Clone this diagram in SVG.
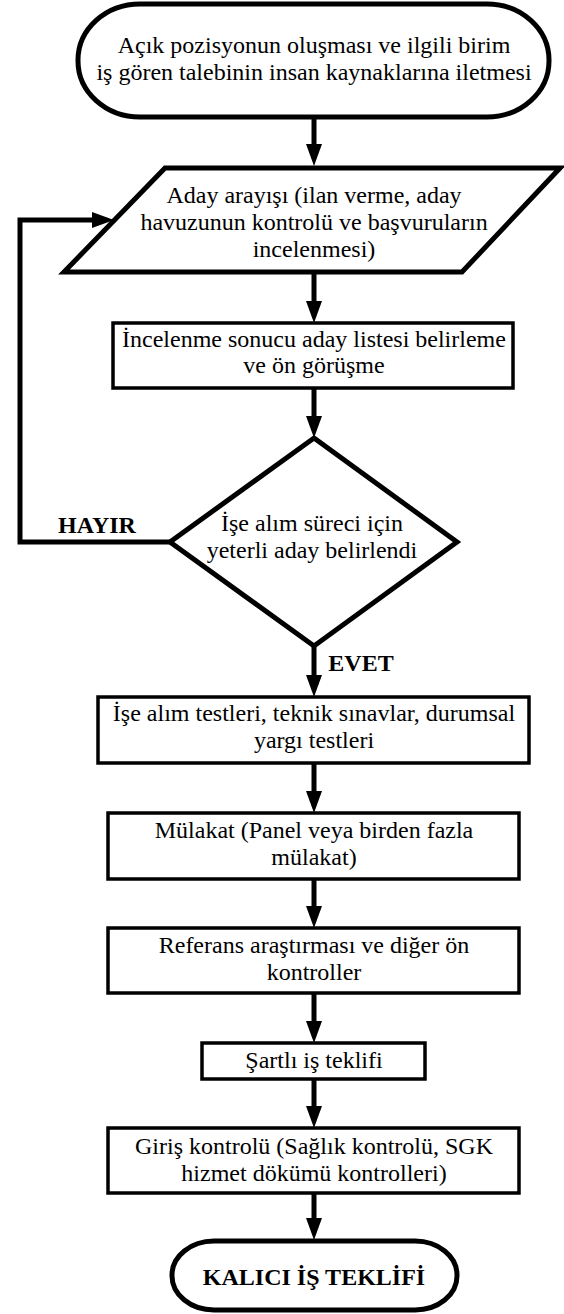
<svg xmlns="http://www.w3.org/2000/svg" width="564" height="1314" viewBox="0 0 564 1314">
<style>
.t{font-family:"Liberation Serif","Times New Roman",serif;font-size:24px;fill:#000;text-anchor:middle}
.b{font-weight:bold}
.thick{fill:#fff;stroke:#000;stroke-width:5;stroke-linejoin:miter}
.box{fill:#fff;stroke:#000;stroke-width:3.5}
.c{fill:none;stroke:#000;stroke-width:5;stroke-linejoin:miter}
</style>
<defs>
<marker id="ah" viewBox="0 0 22 16" refX="0" refY="8" markerWidth="22" markerHeight="16" markerUnits="userSpaceOnUse" orient="auto">
<path d="M0,0 L22,8 L0,16 Z" fill="#000"/>
</marker>
</defs>
<g id="connectors">
<path class="c" d="M314,117 V144" marker-end="url(#ah)"/>
<path class="c" d="M314,272 V301" marker-end="url(#ah)"/>
<path class="c" d="M314,388 V416" marker-end="url(#ah)"/>
<path class="c" d="M170,542 H20 V220 H92" marker-end="url(#ah)"/>
<path class="c" d="M314,646 V675" marker-end="url(#ah)"/>
<path class="c" d="M314,763 V791" marker-end="url(#ah)"/>
<path class="c" d="M314,879 V906" marker-end="url(#ah)"/>
<path class="c" d="M314,993 V1021" marker-end="url(#ah)"/>
<path class="c" d="M314,1079 V1106" marker-end="url(#ah)"/>
<path class="c" d="M314,1193 V1218" marker-end="url(#ah)"/>
<text class="t b" x="97" y="533">HAYIR</text>
<text class="t b" x="361" y="671">EVET</text>
</g>
<g id="start">
<rect class="thick" x="78" y="4" width="471" height="113" rx="62" ry="56"/>
<text class="t" x="314" y="53">Açık pozisyonun oluşması ve ilgili birim</text>
<text class="t" x="314" y="80">iş gören talebinin insan kaynaklarına iletmesi</text>
</g>
<g id="search">
<polygon class="thick" points="165,168 560,168 462,272 64,272"/>
<text class="t" x="314" y="203">Aday arayışı (ilan verme, aday</text>
<text class="t" x="314" y="230">havuzunun kontrolü ve başvuruların</text>
<text class="t" x="314" y="257">incelenmesi)</text>
</g>
<g id="shortlist">
<rect class="box" x="113" y="323" width="400" height="65"/>
<text class="t" x="314" y="347">İncelenme sonucu aday listesi belirleme</text>
<text class="t" x="314" y="373">ve ön görüşme</text>
</g>
<g id="decision">
<polygon class="thick" points="314,438 457,542 314,646 170,542"/>
<text class="t" x="312" y="531">İşe alım süreci için</text>
<text class="t" x="312" y="558">yeterli aday belirlendi</text>
</g>
<g id="tests">
<rect class="box" x="98" y="697" width="431" height="66"/>
<text class="t" x="314" y="721">İşe alım testleri, teknik sınavlar, durumsal</text>
<text class="t" x="314" y="748">yargı testleri</text>
</g>
<g id="interview">
<rect class="box" x="108" y="813" width="411" height="66"/>
<text class="t" x="314" y="838">Mülakat (Panel veya birden fazla</text>
<text class="t" x="314" y="865">mülakat)</text>
</g>
<g id="reference">
<rect class="box" x="108" y="928" width="411" height="65"/>
<text class="t" x="314" y="953">Referans araştırması ve diğer ön</text>
<text class="t" x="314" y="980">kontroller</text>
</g>
<g id="offer">
<rect class="box" x="202" y="1043" width="223" height="36"/>
<text class="t" x="314" y="1068">Şartlı iş teklifi</text>
</g>
<g id="entry">
<rect class="box" x="108" y="1128" width="411" height="65"/>
<text class="t" x="314" y="1154">Giriş kontrolü (Sağlık kontrolü, SGK</text>
<text class="t" x="314" y="1181">hizmet dökümü kontrolleri)</text>
</g>
<g id="end">
<rect class="thick" x="172" y="1241" width="285" height="69" rx="42" ry="34"/>
<text class="t b" x="314" y="1285">KALICI İŞ TEKLİFİ</text>
</g>
</svg>
